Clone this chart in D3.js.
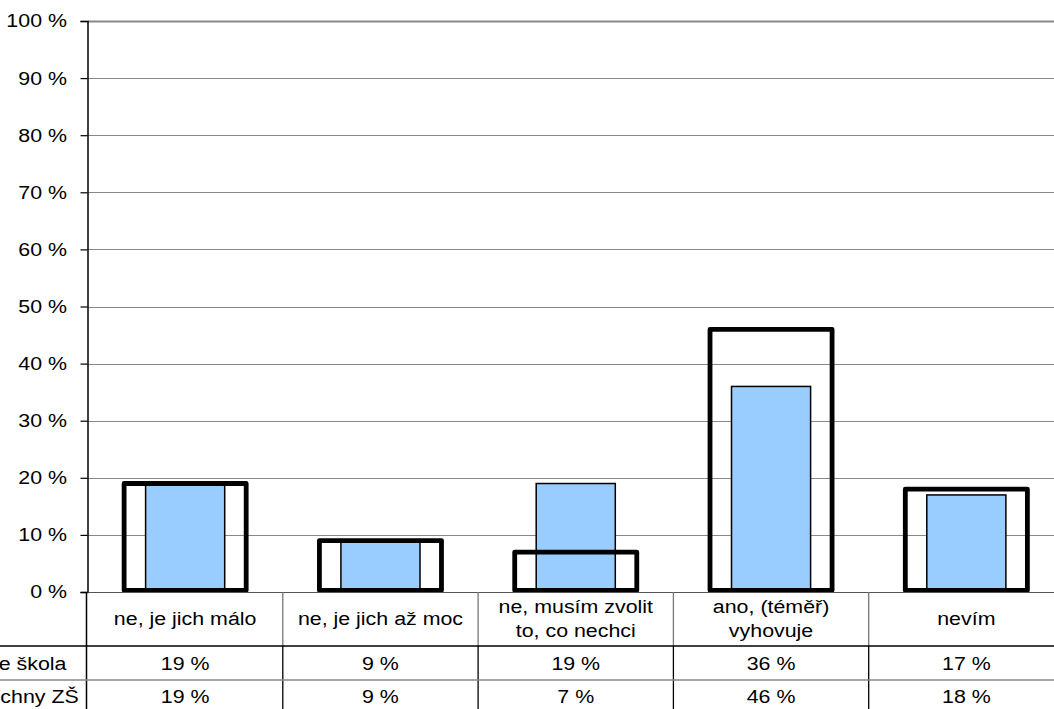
<!DOCTYPE html>
<html>
<head>
<meta charset="utf-8">
<script src="https://cdn.jsdelivr.net/npm/d3@7"></script>
<style>
  html, body { margin: 0; padding: 0; background: #fff; overflow: hidden; }
  svg { display: block; }
  text { font-family: "Liberation Sans", Arial, sans-serif; font-size: 18.6px; fill: #000; }
</style>
</head>
<body>
<svg id="chart" width="1054" height="709"></svg>
<script>
// ---- data ----
const categories = [
  ["ne, je jich málo"],
  ["ne, je jich až moc"],
  ["ne, musím zvolit", "to, co nechci"],
  ["ano, (téměř)", "vyhovuje"],
  ["nevím"]
];
const seriesNames = ["Vaše škola", "Všechny ZŠ"];
const skola = [19, 9, 19, 36, 17];
const vsechny = [19, 9, 7, 46, 18];
const yTicks = [0, 10, 20, 30, 40, 50, 60, 70, 80, 90, 100];

// ---- layout ----
const svg = d3.select("#chart");
const plotLeft = 87.5, plotTop = 21, plotBottom = 592;
const bandW = 195.3;
const plotRight = plotLeft + bandW * categories.length;
const sx = 1.15; // horizontal text stretch

const idx = categories.map((d, i) => i);
const x = d3.scaleBand().domain(idx).range([plotLeft, plotRight]).padding(0);
const y = d3.scaleLinear().domain([0, 100]).range([plotBottom, plotTop]);

function stext(g, tx, ty, str, anchor) {
  return g.append("text")
    .attr("transform", `translate(${tx},${ty}) scale(${sx},1)`)
    .attr("text-anchor", anchor || "middle")
    .attr("dominant-baseline", "central")
    .text(str);
}

// gridlines
svg.append("g").selectAll("line").data(yTicks.filter(t => t > 0)).join("line")
  .attr("x1", plotLeft).attr("x2", plotRight)
  .attr("y1", d => Math.round(y(d)) + 0.5).attr("y2", d => Math.round(y(d)) + 0.5)
  .attr("stroke", "#888").attr("stroke-width", d => d === 100 ? 2 : 1.2);

// y axis
const yAxis = d3.axisLeft(y).tickValues(yTicks).tickSize(7).tickFormat(() => "");
const gy = svg.append("g").attr("transform", `translate(${plotLeft},0)`).call(yAxis);
gy.select(".domain").attr("stroke", "#000").attr("stroke-width", 1.5);
gy.selectAll(".tick line").attr("stroke", "#000").attr("stroke-width", 1.2);
const yl = svg.append("g");
yTicks.forEach(t => stext(yl, 67, y(t), t + " %", "end"));

// school bars (blue)
const innerW = bandW * 0.405;
svg.append("g").selectAll("rect").data(skola).join("rect")
  .attr("x", (d, i) => x(i) + (bandW - innerW) / 2)
  .attr("width", innerW)
  .attr("y", d => y(d))
  .attr("height", d => y(0) - y(d))
  .attr("fill", "#99ccff")
  .attr("stroke", "#000").attr("stroke-width", 1.5);

// all schools bars (outline)
const outerW = bandW * 0.625;
svg.append("g").selectAll("rect").data(vsechny).join("rect")
  .attr("x", (d, i) => x(i) + (bandW - outerW) / 2)
  .attr("width", outerW)
  .attr("y", d => y(d))
  .attr("height", d => y(0) - y(d) - 1.5)
  .attr("fill", "none")
  .attr("stroke", "#000").attr("stroke-width", 4.8)
  .attr("stroke-linejoin", "round");

// x axis line
svg.append("line").attr("x1", plotLeft).attr("x2", plotRight)
  .attr("y1", plotBottom + 0.5).attr("y2", plotBottom + 0.5)
  .attr("stroke", "#555").attr("stroke-width", 1.2);

// ---- data table ----
const rowLine1 = 646, rowLine2 = 680, rowEnd = 714;
const tbl = svg.append("g");
idx.slice(1).forEach(i => {
  tbl.append("line").attr("x1", x(i)).attr("x2", x(i)).attr("y1", plotBottom).attr("y2", rowLine1)
    .attr("stroke", "#777").attr("stroke-width", 1.3);
  tbl.append("line").attr("x1", x(i)).attr("x2", x(i)).attr("y1", rowLine1).attr("y2", rowEnd)
    .attr("stroke", "#000").attr("stroke-width", 1.3);
});
tbl.append("line").attr("x1", plotLeft - 1).attr("x2", plotLeft - 1).attr("y1", plotBottom).attr("y2", rowEnd)
  .attr("stroke", "#000").attr("stroke-width", 1.5);
tbl.append("line").attr("x1", 0).attr("x2", plotRight).attr("y1", rowLine1).attr("y2", rowLine1)
  .attr("stroke", "#000").attr("stroke-width", 1.3);
tbl.append("line").attr("x1", 0).attr("x2", plotRight).attr("y1", rowLine2).attr("y2", rowLine2)
  .attr("stroke", "#888").attr("stroke-width", 1.6);

// category labels
categories.forEach((lines, i) => {
  const cx = x(i) + bandW / 2;
  const cy = (plotBottom + rowLine1) / 2;
  const lh = 24;
  lines.forEach((ln, k) => stext(tbl, cx, cy + (k - (lines.length - 1) / 2) * lh, ln));
});

// row labels (left-aligned, partly outside the picture as in the reference) and values
const rows = [skola, vsechny];
const rowCenters = [(rowLine1 + rowLine2) / 2 + 1, (rowLine2 + rowEnd) / 2];
rows.forEach((vals, r) => {
  stext(tbl, -36.5, rowCenters[r], seriesNames[r], "start");
  vals.forEach((v, i) => stext(tbl, x(i) + bandW / 2, rowCenters[r], v + " %"));
});
</script>
</body>
</html>
